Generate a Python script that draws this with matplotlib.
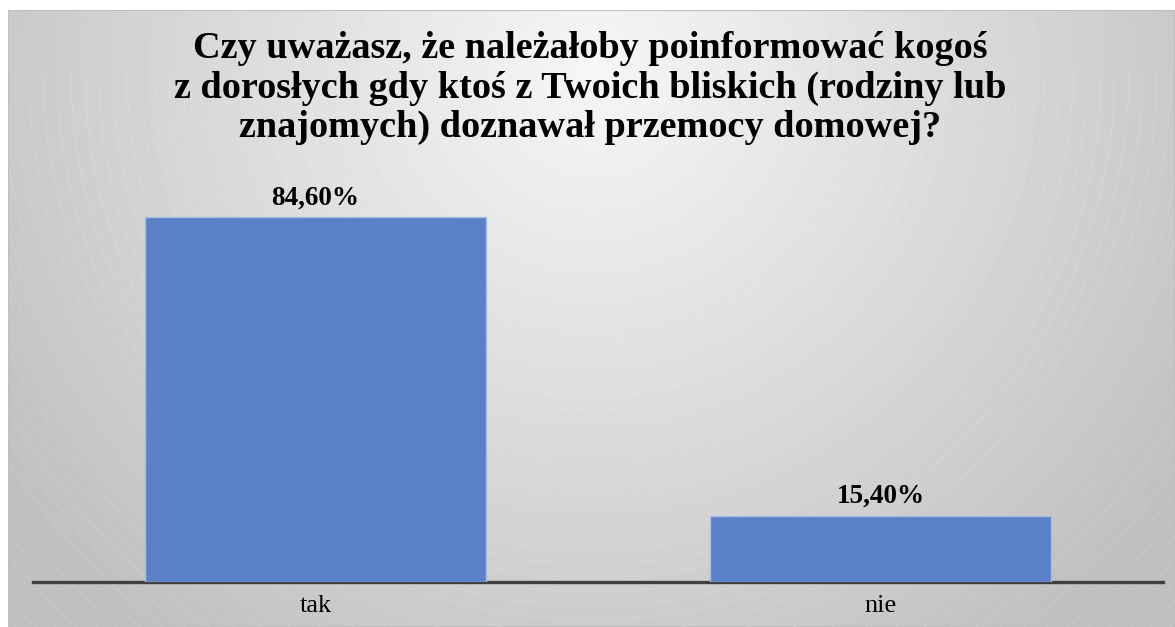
import numpy as np
import matplotlib.pyplot as plt

categories = ['tak', 'nie']
values = [84.6, 15.4]
value_labels = ['84,60%', '15,40%']
title = ('Czy uważasz, że należałoby poinformować kogoś\n'
         'z dorosłych gdy ktoś z Twoich bliskich (rodziny lub\n'
         'znajomych) doznawał przemocy domowej?')

plt.rcParams['font.family'] = ['Liberation Serif', 'DejaVu Serif']

W, H = 1175, 627
fig = plt.figure(figsize=(W / 100, H / 100), dpi=100)
fig.patch.set_facecolor('white')

# radial gradient background of the chart area
bg = fig.add_axes([8 / W, 0, (W - 8) / W, (H - 10) / H])
yy, xx = np.mgrid[0:H - 10, 0:W - 8]
r = np.sqrt((xx - 585) ** 2 + (yy - 60) ** 2)
t = np.clip(r / 720, 0, 1)
shade = 0.965 - (0.965 - 0.75) * t
bg.imshow(shade, cmap='gray', vmin=0, vmax=1, aspect='auto',
          extent=[0, W - 8, H - 10, 0])
# faint arcs
for rad in np.arange(200, 1400, 14):
    ang = np.linspace(0, np.pi, 400)
    bg.plot(585 + rad * np.cos(ang), 60 + rad * np.sin(ang),
            color='white', lw=0.4, alpha=0.22)
bg.set_xlim(0, W - 8)
bg.set_ylim(H - 10, 0)
bg.axis('off')
bg.add_patch(plt.Rectangle((0, 0), W - 8, H - 10, fill=False,
                           edgecolor='#bfbfbf', lw=1.5))

ax = fig.add_axes([33 / W, (H - 582) / H, 1130 / W, 431 / H])
ax.patch.set_alpha(0)
x = np.arange(len(categories))
bars = ax.bar(x, values, width=0.604, color='#5a81c8',
              edgecolor='#a8bde2', linewidth=1.0, zorder=2)
for b, lab in zip(bars, value_labels):
    ax.annotate(lab, (b.get_x() + b.get_width() / 2, b.get_height()),
                xytext=(0, 5), textcoords='offset points',
                ha='center', va='bottom', fontsize=19.5, fontweight='bold')

ax.set_xlim(-0.5, 1.5)
ax.set_ylim(0, 100)
ax.set_xticks(x)
ax.set_xticklabels(categories, fontsize=19)
ax.tick_params(axis='x', length=0, pad=9)
ax.set_yticks([])
for s in ['top', 'right', 'left']:
    ax.spines[s].set_visible(False)
ax.spines['bottom'].set_color('#404040')
ax.spines['bottom'].set_linewidth(2.4)
ax.spines['bottom'].set_zorder(1)

fig.text(590 / W, 1 - 31 / H, title, ha='center', va='top',
         fontsize=27.5, fontweight='bold', linespacing=1.17)

plt.savefig('out.png', dpi=100)
